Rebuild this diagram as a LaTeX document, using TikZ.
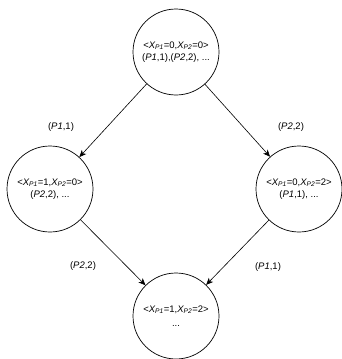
\documentclass[tikz,border=0pt]{standalone}
\usepackage{fontspec}
\setmainfont{Liberation Sans}
\usetikzlibrary{arrows.meta}

\tikzset{
    state/.style={draw, circle, minimum size=86pt, inner sep=0pt, align=center, line width=0.7pt},
    trans/.style={-{Stealth[length=7pt, width=6pt, inset=2pt]}, line width=0.6pt},
    lbl/.style={font=\fontsize{9.5}{11}\selectfont}
}

\newcommand{\xp}[2]{\textit{X\textsubscript{P#1}}=#2}
\newcommand{\pp}[2]{(\textit{P#1},#2)}

\begin{document}
\begin{tikzpicture}[x=1pt, y=-1pt, font=\fontsize{9.5}{12}\selectfont]

    \useasboundingbox (0,0) rectangle (341,359);

    %% States
    % Initial state
    \node[state] (s00) at (176,52) {<\xp{1}{0},\xp{2}{0}>\\ \pp{1}{1},\pp{2}{2}, ...};

    % After P1 moves
    \node[state] (s10) at (50,189) {<\xp{1}{1},\xp{2}{0}>\\ \pp{2}{2}, ...};

    % After P2 moves
    \node[state] (s02) at (299,189) {<\xp{1}{0},\xp{2}{2}>\\ \pp{1}{1}, ...};

    % Final state
    \node[state] (s12) at (176,316) {<\xp{1}{1},\xp{2}{2}>\\[2pt] ...};

    %% Transitions
    \draw[trans] (s00) -- (s10);
    \draw[trans] (s00) -- (s02);
    \draw[trans] (s10) -- (s12);
    \draw[trans] (s02) -- (s12);

    % Transition labels
    \node[lbl] (t1) at (61,127) {\pp{1}{1}};
    \node[lbl] (t2) at (291,127) {\pp{2}{2}};
    \node[lbl] (t3) at (83,266) {\pp{2}{2}};
    \node[lbl] (t4) at (268,267) {\pp{1}{1}};

\end{tikzpicture}
\end{document}
